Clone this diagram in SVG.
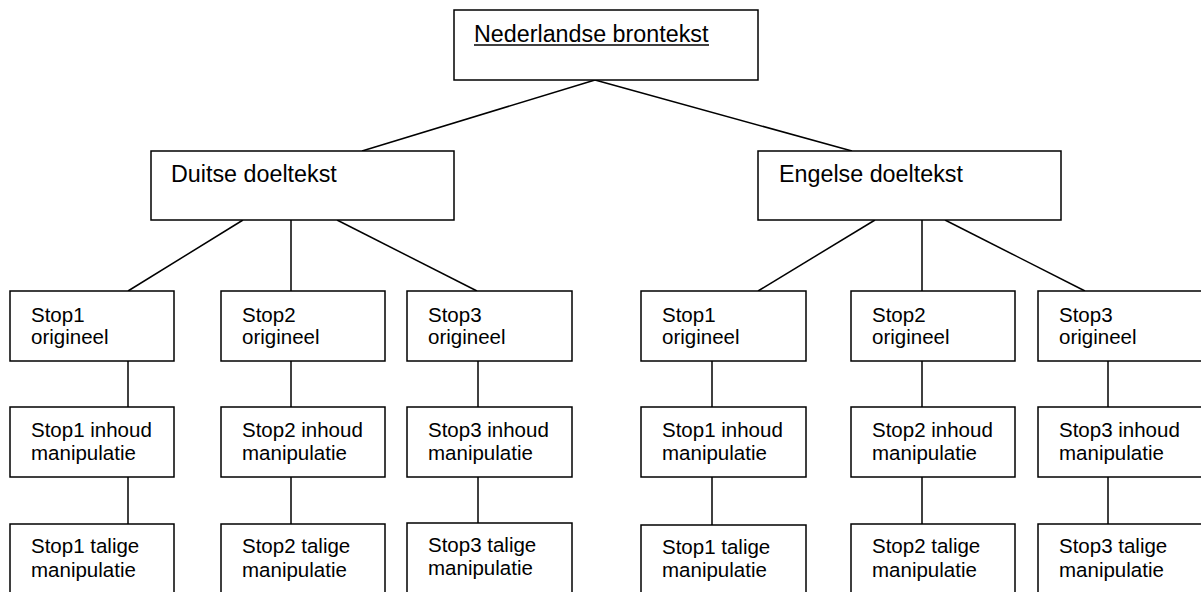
<svg xmlns="http://www.w3.org/2000/svg" width="1201" height="592" viewBox="0 0 1201 592">
<style>
rect{fill:#fff;stroke:#000;stroke-width:1.5}
.c line{stroke:#000;stroke-width:1.5}
text{font-family:"Liberation Sans",Arial,sans-serif;fill:#000}
.b{font-size:23.3px}
.s{font-size:20.5px}
</style>
<rect x="0" y="0" width="1201" height="592" style="stroke:none"/>
<g class="c" id="connectors">
<line x1="595" y1="80" x2="362" y2="151"/>
<line x1="595" y1="80" x2="852" y2="151"/>
<line x1="243" y1="220" x2="128" y2="291"/>
<line x1="291" y1="220" x2="291" y2="291"/>
<line x1="337" y1="220" x2="477" y2="291"/>
<line x1="875" y1="220" x2="758" y2="291"/>
<line x1="922" y1="220" x2="922" y2="291"/>
<line x1="945" y1="220" x2="1085" y2="291"/>
<line x1="128" y1="361" x2="128" y2="407"/>
<line x1="128" y1="477" x2="128" y2="524"/>
<line x1="291" y1="361" x2="291" y2="407"/>
<line x1="291" y1="477" x2="291" y2="524"/>
<line x1="478" y1="361" x2="478" y2="407"/>
<line x1="478" y1="477" x2="478" y2="523"/>
<line x1="712" y1="361" x2="712" y2="407"/>
<line x1="712" y1="477" x2="712" y2="525"/>
<line x1="922" y1="361" x2="922" y2="407"/>
<line x1="922" y1="477" x2="922" y2="524"/>
<line x1="1108" y1="361" x2="1108" y2="407"/>
<line x1="1108" y1="477" x2="1108" y2="524"/>
</g>
<g id="n-root"><rect x="454" y="10" width="304" height="70"/><text class="b" x="474" y="42">Nederlandse brontekst</text><line x1="474" y1="45" x2="709" y2="45" style="stroke:#000;stroke-width:1.5"/></g>
<g id="n-de"><rect x="151" y="151" width="303" height="69"/><text class="b" x="171" y="182">Duitse doeltekst</text></g>
<g id="n-en"><rect x="758" y="151" width="303" height="69"/><text class="b" x="779" y="182">Engelse doeltekst</text></g>
<g id="n-de1o"><rect x="10" y="291" width="164" height="70"/><text class="s" x="31" y="322">Stop1</text><text class="s" x="31" y="344">origineel</text></g>
<g id="n-de2o"><rect x="221" y="291" width="164" height="70"/><text class="s" x="242" y="322">Stop2</text><text class="s" x="242" y="344">origineel</text></g>
<g id="n-de3o"><rect x="407" y="291" width="165" height="70"/><text class="s" x="428" y="322">Stop3</text><text class="s" x="428" y="344">origineel</text></g>
<g id="n-en1o"><rect x="641" y="291" width="165" height="70"/><text class="s" x="662" y="322">Stop1</text><text class="s" x="662" y="344">origineel</text></g>
<g id="n-en2o"><rect x="851" y="291" width="164" height="70"/><text class="s" x="872" y="322">Stop2</text><text class="s" x="872" y="344">origineel</text></g>
<g id="n-en3o"><rect x="1038" y="291" width="164" height="70"/><text class="s" x="1059" y="322">Stop3</text><text class="s" x="1059" y="344">origineel</text></g>
<g id="n-de1i"><rect x="10" y="407" width="164" height="70"/><text class="s" x="31" y="437">Stop1 inhoud</text><text class="s" x="31" y="460">manipulatie</text></g>
<g id="n-de2i"><rect x="221" y="407" width="164" height="70"/><text class="s" x="242" y="437">Stop2 inhoud</text><text class="s" x="242" y="460">manipulatie</text></g>
<g id="n-de3i"><rect x="407" y="407" width="165" height="70"/><text class="s" x="428" y="437">Stop3 inhoud</text><text class="s" x="428" y="460">manipulatie</text></g>
<g id="n-en1i"><rect x="641" y="407" width="165" height="70"/><text class="s" x="662" y="437">Stop1 inhoud</text><text class="s" x="662" y="460">manipulatie</text></g>
<g id="n-en2i"><rect x="851" y="407" width="164" height="70"/><text class="s" x="872" y="437">Stop2 inhoud</text><text class="s" x="872" y="460">manipulatie</text></g>
<g id="n-en3i"><rect x="1038" y="407" width="164" height="70"/><text class="s" x="1059" y="437">Stop3 inhoud</text><text class="s" x="1059" y="460">manipulatie</text></g>
<g id="n-de1t"><rect x="10" y="524" width="164" height="80"/><text class="s" x="31" y="553">Stop1 talige</text><text class="s" x="31" y="577">manipulatie</text></g>
<g id="n-de2t"><rect x="221" y="524" width="164" height="80"/><text class="s" x="242" y="553">Stop2 talige</text><text class="s" x="242" y="577">manipulatie</text></g>
<g id="n-de3t"><rect x="407" y="523" width="165" height="80"/><text class="s" x="428" y="552">Stop3 talige</text><text class="s" x="428" y="575">manipulatie</text></g>
<g id="n-en1t"><rect x="641" y="525" width="165" height="80"/><text class="s" x="662" y="554">Stop1 talige</text><text class="s" x="662" y="577">manipulatie</text></g>
<g id="n-en2t"><rect x="851" y="524" width="164" height="80"/><text class="s" x="872" y="553">Stop2 talige</text><text class="s" x="872" y="577">manipulatie</text></g>
<g id="n-en3t"><rect x="1038" y="524" width="164" height="80"/><text class="s" x="1059" y="553">Stop3 talige</text><text class="s" x="1059" y="577">manipulatie</text></g>
</svg>
